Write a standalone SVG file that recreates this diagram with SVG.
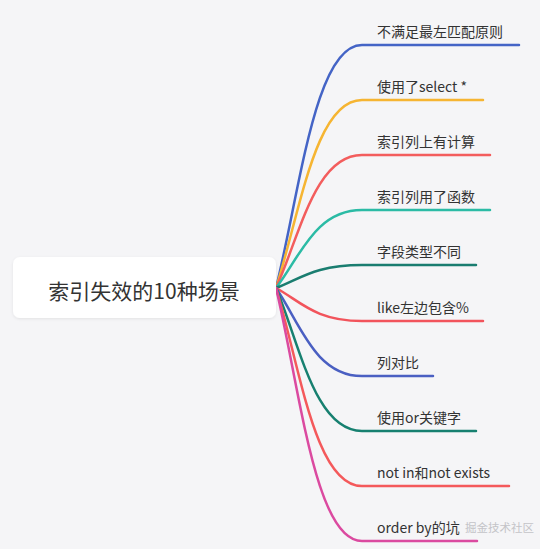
<svg xmlns="http://www.w3.org/2000/svg" width="540" height="549" viewBox="0 0 540 549">
<defs>
<filter id="sh" x="-10%" y="-30%" width="120%" height="160%">
<feDropShadow dx="0" dy="1" stdDeviation="1.5" flood-color="#000" flood-opacity="0.08"/>
</filter>
</defs>
<style>
.bg{fill:#f5f5f7}
.c{fill:none;stroke-width:2.5;stroke-linecap:round}
.t{font-family:"Noto Sans CJK SC","Microsoft YaHei",sans-serif;font-size:14px;fill:#333}
.root{font-family:"Noto Sans CJK SC","Microsoft YaHei",sans-serif;font-size:21px;fill:#333;text-anchor:middle}
.wm{font-family:"Noto Sans CJK SC",sans-serif;font-size:11.5px;fill:#c4c4c8}
</style>
<rect class="bg" x="0" y="0" width="540" height="549"/>
<g id="connectors">
<path class="c" stroke="#4464c6" d="M276,288 C300,191 315,45 362,45 H519"/>
<path class="c" stroke="#f6b532" d="M276,288 C300,213 315,100 362,100 H483"/>
<path class="c" stroke="#f35d5d" d="M276,288 C300,235 315,155 362,155 H490"/>
<path class="c" stroke="#2bbba5" d="M276,288 C300,257 315,210 362,210 H490"/>
<path class="c" stroke="#1a7d70" d="M276,288 C300,279 315,265 362,265 H476"/>
<path class="c" stroke="#f2545c" d="M276,288 C300,301 315,321 362,321 H483"/>
<path class="c" stroke="#4a5fc2" d="M276,288 C300,323 315,376 362,376 H433"/>
<path class="c" stroke="#178070" d="M276,288 C300,345 315,431 362,431 H476"/>
<path class="c" stroke="#f4595b" d="M276,288 C300,367 315,486 362,486 H509"/>
<path class="c" stroke="#db4aa0" d="M276,288 C300,389 315,541 362,541 H477"/>
</g>
<g id="root">
<rect x="13" y="257" width="263" height="61" rx="7" fill="#fff" filter="url(#sh)"/>
<text class="root" x="144" y="299">索引失效的10种场景</text>
</g>
<g id="n1"><text class="t" x="377" y="37">不满足最左匹配原则</text></g>
<g id="n2"><text class="t" x="377" y="92">使用了select *</text></g>
<g id="n3"><text class="t" x="377" y="147">索引列上有计算</text></g>
<g id="n4"><text class="t" x="377" y="202">索引列用了函数</text></g>
<g id="n5"><text class="t" x="377" y="257">字段类型不同</text></g>
<g id="n6"><text class="t" x="377" y="313">like左边包含%</text></g>
<g id="n7"><text class="t" x="377" y="368">列对比</text></g>
<g id="n8"><text class="t" x="377" y="423">使用or关键字</text></g>
<g id="n9"><text class="t" x="377" y="478">not in和not exists</text></g>
<text class="wm" x="465" y="532">掘金技术社区</text>
<g id="n10"><text class="t" x="377" y="533">order by的坑</text></g>
</svg>
